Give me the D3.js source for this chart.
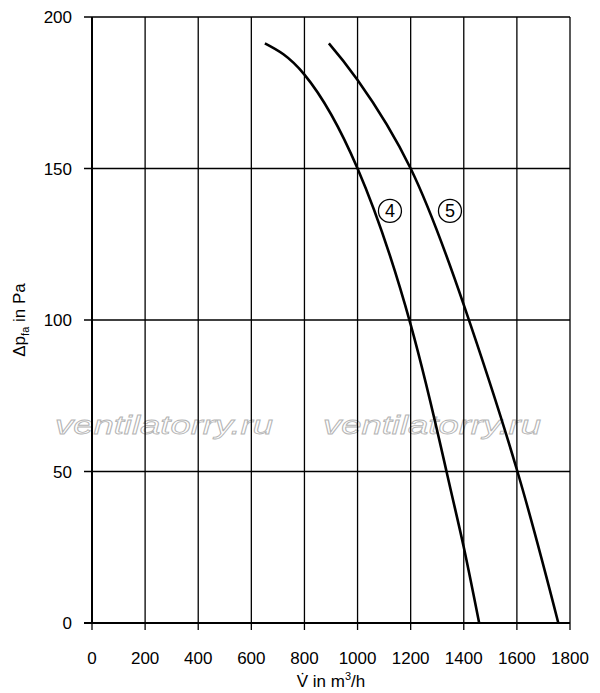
<!DOCTYPE html>
<html>
<head>
<meta charset="utf-8">
<script src="https://cdn.jsdelivr.net/npm/d3@7"></script>
<style>
  body { margin: 0; background: #fff; }
  text { font-family: "Liberation Sans", Arial, sans-serif; }
</style>
</head>
<body>
<div id="chart"></div>
<script>
// airflow (m3/h) vs pressure (Pa)
const xTicks = [0, 200, 400, 600, 800, 1000, 1200, 1400, 1600, 1800];
const yTicks = [0, 50, 100, 150, 200];

const flow4 = [651, 800, 1000, 1200, 1335, 1400, 1458];
const press4 = [191.3, 181, 150, 98.5, 50, 25, 0];

const flow5 = [892, 1000, 1200, 1400, 1602, 1756];
const press5 = [191.3, 179.2, 150, 105, 50, 0];

const curveLabels = ["4", "5"];
const labelFlow = [1122, 1348];
const labelPress = [136, 136];

const width = 600,
      height = 693;

const svg = d3.select("#chart")
.append("svg")
  .attr("width", width)
  .attr("height", height);

const x = d3.scaleLinear().domain([0, 1800]).range([92, 570]);
const y = d3.scaleLinear().domain([0, 200]).range([623, 17]);

// watermark
svg.selectAll("text.wm")
.data([55, 323])
.enter()
.append("text")
  .attr("class", "wm")
  .attr("x", d => d)
  .attr("y", 434)
  .attr("font-size", 26)
  .attr("font-style", "italic")
  .attr("textLength", 218)
  .attr("lengthAdjust", "spacingAndGlyphs")
  .attr("fill", "none")
  .attr("stroke", "#b4b4b4")
  .attr("stroke-width", 0.8)
  .text("ventilatorry.ru");

// grid
svg.append("g")
  .selectAll("line")
  .data(xTicks)
  .enter()
  .append("line")
    .attr("x1", d => x(d))
    .attr("x2", d => x(d))
    .attr("y1", y(200))
    .attr("y2", y(0) + 7)
    .attr("stroke", "#000")
    .attr("stroke-width", 1.3);

svg.append("g")
  .selectAll("line")
  .data(yTicks)
  .enter()
  .append("line")
    .attr("x1", x(0) - 8)
    .attr("x2", x(1800))
    .attr("y1", d => y(d))
    .attr("y2", d => y(d))
    .attr("stroke", "#000")
    .attr("stroke-width", d => d === 0 ? 2 : 1.3);

svg.append("line")
  .attr("x1", x(0)).attr("x2", x(0))
  .attr("y1", y(200)).attr("y2", y(0))
  .attr("stroke", "#000")
  .attr("stroke-width", 2);

// tick labels
svg.selectAll("text.xl")
.data(xTicks)
.enter()
.append("text")
  .attr("class", "xl")
  .attr("x", d => x(d))
  .attr("y", 664)
  .attr("text-anchor", "middle")
  .attr("font-size", 17)
  .text(d => d);

svg.selectAll("text.yl")
.data(yTicks)
.enter()
.append("text")
  .attr("class", "yl")
  .attr("x", 72)
  .attr("y", d => y(d) + 6)
  .attr("text-anchor", "end")
  .attr("font-size", 17)
  .text(d => d);

// axis titles
const xt = svg.append("text")
  .attr("x", 331)
  .attr("y", 687)
  .attr("text-anchor", "middle")
  .attr("font-size", 17);
xt.append("tspan").text("V\u0307 in m");
xt.append("tspan").attr("font-size", 11).attr("dy", -7).text("3");
xt.append("tspan").attr("dy", 7).text("/h");

const yt = svg.append("text")
  .attr("transform", "translate(25,320) rotate(-90)")
  .attr("text-anchor", "middle")
  .attr("font-size", 17);
yt.append("tspan").text("\u0394p");
yt.append("tspan").attr("font-size", 11).attr("dy", 4).text("fa");
yt.append("tspan").attr("dy", -4).text(" in Pa");

// curves
const line = d3.line()
  .x(d => x(d[0]))
  .y(d => y(d[1]))
  .curve(d3.curveNatural);

[[flow4, press4], [flow5, press5]].forEach(([f, p]) => {
  svg.append("path")
    .datum(f.map((v, i) => [v, p[i]]))
    .attr("d", line)
    .attr("fill", "none")
    .attr("stroke", "#000")
    .attr("stroke-width", 2.6);
});

// circled curve numbers
const lbl = svg.selectAll("g.lbl")
.data(curveLabels)
.enter()
.append("g")
  .attr("class", "lbl")
  .attr("transform", (d, i) => `translate(${x(labelFlow[i])},${y(labelPress[i])})`);
lbl.append("circle")
  .attr("r", 11.5)
  .attr("fill", "#fff")
  .attr("stroke", "#000")
  .attr("stroke-width", 1.3);
lbl.append("text")
  .attr("text-anchor", "middle")
  .attr("y", 6.5)
  .attr("font-size", 18)
  .text(d => d);
</script>
</body>
</html>
